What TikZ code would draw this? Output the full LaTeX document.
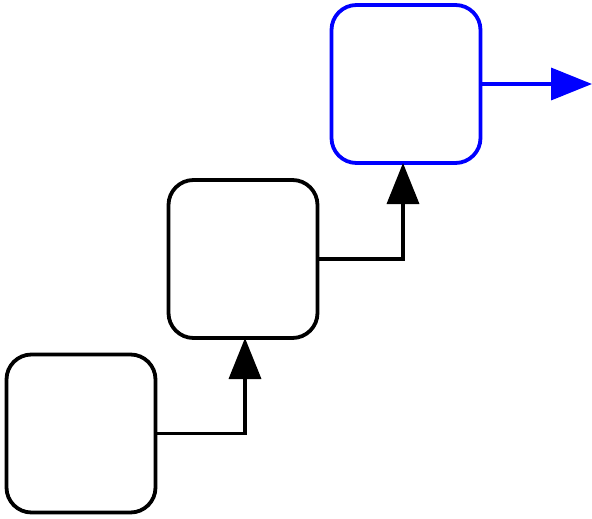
\documentclass[tikz,border=0pt]{standalone}
\usetikzlibrary{arrows.meta}
\begin{document}
\begin{tikzpicture}[x=1pt,y=-1pt,
  boxnode/.style={draw=black,line width=3.8pt,rounded corners=25pt,minimum width=149pt,minimum height=158pt,inner sep=0pt,outer sep=0pt},
  conn/.style={line width=3.6pt,-{Triangle[length=41pt,width=32pt]}}]
\useasboundingbox (0,0) rectangle (592,519);
\node[boxnode] (b1) at (81,433.5) {};
\node[boxnode] (b2) at (243,259) {};
\node[boxnode,draw=blue] (b3) at (406,84) {};
\coordinate (out) at (592,84);
\draw[conn] (b1.east) -| ([xshift=2pt]b2.south);
\draw[conn] (b2.east) -| ([xshift=-3pt]b3.south);
\draw[conn,blue] (b3.east) -- (out);
\end{tikzpicture}
\end{document}
